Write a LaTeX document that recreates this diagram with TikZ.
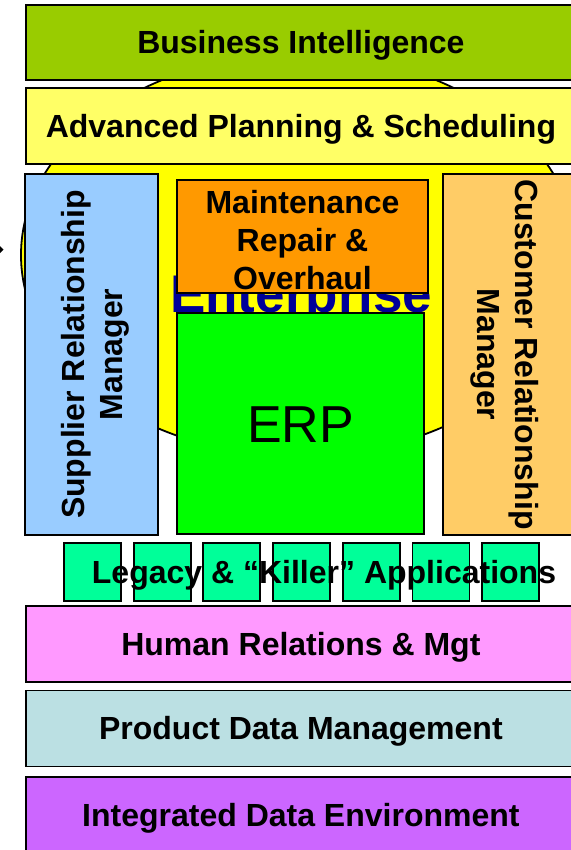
\documentclass[tikz,border=0pt]{standalone}
\usepackage{fontspec}
\setmainfont{Liberation Sans}
\usetikzlibrary{calc}
\definecolor{myolive1}{RGB}{153, 204, 0}
\definecolor{myyellow1}{RGB}{255, 255, 102}
\definecolor{myyellow2}{RGB}{255, 255, 0}
\definecolor{myblue1}{RGB}{153, 204, 255}
\definecolor{myorange1}{RGB}{255, 204, 102}
\definecolor{myorange2}{RGB}{255, 153, 0}
\definecolor{mygreen1}{RGB}{0, 255, 0}
\definecolor{mygreen2}{RGB}{0, 255, 153}
\definecolor{mypink1}{RGB}{255, 153, 255}
\definecolor{mycyan1}{RGB}{187, 224, 227}
\definecolor{mypurple1}{RGB}{204, 102, 255}
\definecolor{mynavy1}{RGB}{0, 0, 153}

\begin{document}
\begin{tikzpicture}[
    x = 1pt, y = -1pt,
    d0/.style = {line width = 1.8},
    box/.style = {d0, draw, inner sep = 0, font = \fontsize{32}{38}\selectfont\bfseries},
    lay/.style = {box, anchor = north west, minimum width = 550, minimum height = 76, text height = 23pt, text depth = 0pt}
]
\useasboundingbox (0,0) rectangle (570,850);

\draw[d0, fill = myyellow2] (299,255) ellipse [x radius = 278, y radius = 201];
\fill (0,246) -- (3.5,249.5) -- (0,253) -- cycle;

\node[lay, fill = myolive1, minimum height = 75] (bi) at (25,4) {Business Intelligence};
\node[lay, fill = myyellow1] (aps) at (25,87) {Advanced Planning \& Scheduling};

\node[box, fill = myblue1, rotate = 90, minimum width = 361, minimum height = 133, align = center] (srm) at (91.5,354.5) {\rule{0pt}{31pt}Supplier Relationship\\Manager};
\node[box, fill = myorange1, rotate = -90, minimum width = 361, minimum height = 132, align = center] (crm) at (509,354.5) {\rule{0pt}{31pt}Customer Relationship\\Manager};

\node[inner sep = 0, anchor = base west, text = mynavy1, font = \fontsize{53}{60}\selectfont\bfseries] (ent) at (170,312) {Enterprise};

\node[box, fill = myorange2, minimum width = 251, minimum height = 113, align = center] (mro) at (302.5,236.5) {\rule{0pt}{30pt}Maintenance\\Repair \&\\Overhaul};
\node[box, fill = mygreen1, minimum width = 247, minimum height = 221, text height = 37pt, text depth = 0pt, font = \fontsize{52}{60}\selectfont] (erp) at (300.5,423.5) {ERP};

\foreach \i in {0,...,6}
    \node[d0, draw, fill = mygreen2, inner sep = 0, minimum width = 57, minimum height = 58, anchor = north west] (leg\i) at ({63 + 69.7*\i},542) {};
\node[inner sep = 0, text height = 23pt, text depth = 0pt, font = \fontsize{32}{38}\selectfont\bfseries] (legacy) at (324,571.5) {Legacy \& “Killer” Applications};

\node[lay, fill = mypink1] (hr) at (25,605) {Human Relations \& Mgt};
\node[lay, fill = mycyan1] (pdm) at (25,689.5) {Product Data Management};
\node[lay, fill = mypurple1] (ide) at (25,776) {Integrated Data Environment};

\end{tikzpicture}
\end{document}
